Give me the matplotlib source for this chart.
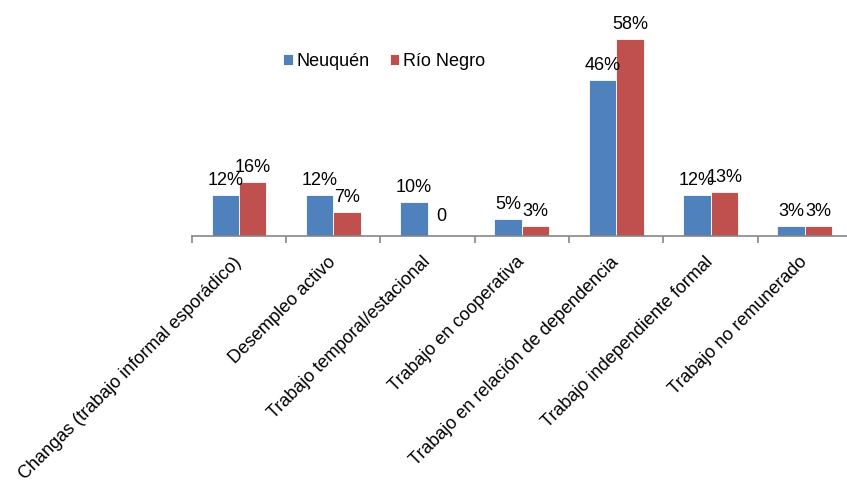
import matplotlib
matplotlib.use("Agg")
import matplotlib.pyplot as plt
import numpy as np

plt.rcParams['font.family'] = ['Liberation Sans', 'DejaVu Sans']

categories = ["Changas (trabajo informal esporádico)", "Desempleo activo",
              "Trabajo temporal/estacional", "Trabajo en cooperativa",
              "Trabajo en relación de dependencia", "Trabajo independiente formal",
              "Trabajo no remunerado"]
neuquen = [12, 12, 10, 5, 46, 12, 3]
rio_negro = [16, 7, 0, 3, 58, 13, 3]
series_names = ["Neuquén", "Río Negro"]
colors = ["#4F81BD", "#C0504D"]

W, H = 847, 480
fig = plt.figure(figsize=(W / 100, H / 100), dpi=100)
ax_left, ax_right = 191.7, 852.0
ax_bottom, ax_top = 236.0, 32.0
ax = fig.add_axes([ax_left / W, 1 - ax_bottom / H, (ax_right - ax_left) / W, (ax_bottom - ax_top) / H])

x = np.arange(len(categories))
bw = 0.29
fs = 13
b1 = ax.bar(x - bw / 2, neuquen, bw, color=colors[0], edgecolor="white", linewidth=0.6, label=series_names[0])
b2 = ax.bar(x + bw / 2, rio_negro, bw, color=colors[1], edgecolor="white", linewidth=0.6, label=series_names[1])

for bars, vals in ((b1, neuquen), (b2, rio_negro)):
    for rect, v in zip(bars, vals):
        txt = f"{v}%" if v != 0 else "0"
        off = 7.2 if v != 0 else 10.8
        ax.annotate(txt, (rect.get_x() + rect.get_width() / 2, v), xytext=(0, off),
                    textcoords="offset points", ha="center", va="baseline",
                    fontsize=fs, color="#000000")

ax.set_xlim(-0.5, len(categories) - 0.5)
ax.set_ylim(0, 60)
ax.set_yticks([])
for s in ("top", "right", "left"):
    ax.spines[s].set_visible(False)
ax.spines["bottom"].set_color("#868686")
ax.spines["bottom"].set_linewidth(1.2)

ax.set_xticks(x)
ax.set_xticklabels(categories, rotation=45, ha="right", va="center",
                   rotation_mode="anchor", fontsize=fs, color="#000000")
ax.tick_params(axis="x", which="major", length=0, pad=17)
ax.set_xticks(np.arange(-0.5, len(categories), 1.0), minor=True)
ax.tick_params(axis="x", which="minor", length=5, width=1.2, color="#868686", direction="out")

leg = ax.legend(loc="center left", bbox_to_anchor=(283 / W, 1 - 61 / H),
                bbox_transform=fig.transFigure, ncol=2, frameon=False,
                fontsize=fs, handlelength=0.55, handleheight=0.55,
                handletextpad=0.2, columnspacing=1.1, borderpad=0, borderaxespad=0)

fig.savefig("out.png", dpi=100)
